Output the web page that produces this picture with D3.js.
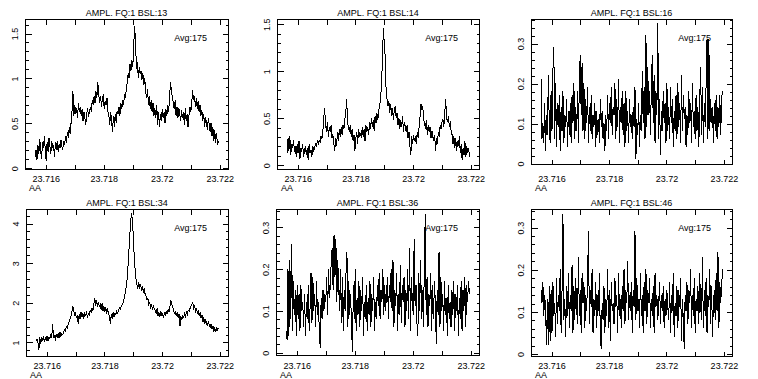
<!DOCTYPE html>
<html>
<head>
<meta charset="utf-8">
<title>AMPL spectra</title>
<style>
  body { margin: 0; background: #fff; }
  svg text { font-family: "Liberation Sans", Arial, sans-serif; font-size: 9px; fill: #000; }
</style>
</head>
<body>
<svg class="svg" width="758" height="379"></svg>
<script src="https://cdn.jsdelivr.net/npm/d3@7/dist/d3.min.js"></script>
<script>
// titles / labels
var titles = ["AMPL. FQ:1 BSL:13", "AMPL. FQ:1 BSL:14", "AMPL. FQ:1 BSL:16",
              "AMPL. FQ:1 BSL:34", "AMPL. FQ:1 BSL:36", "AMPL. FQ:1 BSL:46"];
var avgLabel = "Avg:175";
var xUnit = "AA";

// x axis (wavelength) - first and last channel, ticks
var chanFirst = 23.71565, chanLast = 23.72197;
var xTicks = [23.716, 23.717, 23.718, 23.719, 23.72, 23.721, 23.722];
var xLabels = [23.716, 23.718, 23.72, 23.722];

// amplitudes per channel
var bsl13 = [
  0.12,0.20,0.09,0.25,0.15,0.32,0.18,0.10,0.28,0.22,
  0.35,0.20,0.07,0.28,0.18,0.33,0.24,0.15,0.30,0.22,
  0.25,0.12,0.28,0.20,0.30,0.17,0.26,0.22,0.31,0.24,
  0.20,0.30,0.25,0.35,0.28,0.40,0.33,0.45,0.38,0.50,
  0.62,0.85,0.58,0.70,0.60,0.66,0.55,0.72,0.62,0.68,
  0.58,0.65,0.52,0.62,0.55,0.48,0.60,0.66,0.57,0.62,
  0.68,0.62,0.75,0.70,0.80,0.72,0.85,0.78,0.95,0.82,
  0.72,0.80,0.68,0.76,0.82,0.65,0.74,0.70,0.78,0.62,
  0.58,0.48,0.62,0.52,0.40,0.58,0.45,0.60,0.50,0.63,
  0.60,0.68,0.58,0.72,0.65,0.75,0.70,0.82,0.78,0.88,
  0.95,1.05,1.00,1.15,1.08,1.20,1.12,1.35,1.58,1.40,
  1.10,1.18,1.00,1.12,1.05,1.08,0.98,1.05,0.92,1.00,
  0.85,0.78,0.88,0.70,0.80,0.65,0.75,0.62,0.72,0.58,
  0.66,0.55,0.70,0.48,0.62,0.45,0.60,0.52,0.65,0.55,
  0.62,0.50,0.65,0.58,0.70,0.62,0.80,0.95,0.85,0.78,
  0.72,0.65,0.75,0.58,0.68,0.55,0.66,0.60,0.52,0.64,
  0.55,0.62,0.48,0.66,0.52,0.60,0.45,0.58,0.68,0.62,
  0.72,0.86,0.75,0.80,0.68,0.78,0.65,0.74,0.62,0.70,
  0.58,0.64,0.52,0.60,0.45,0.56,0.50,0.42,0.55,0.48,
  0.40,0.50,0.35,0.45,0.30,0.42,0.28,0.38,0.25,0.30];

var bsl14 = [
  0.12,0.28,0.15,0.30,0.10,0.22,0.18,0.26,0.14,0.20,
  0.08,0.22,0.12,0.25,0.06,0.18,0.14,0.22,0.08,0.16,
  0.20,0.10,0.18,0.05,0.22,0.12,0.16,0.08,0.20,0.14,
  0.18,0.22,0.20,0.25,0.22,0.26,0.24,0.30,0.28,0.35,
  0.50,0.60,0.42,0.35,0.45,0.30,0.40,0.35,0.42,0.28,
  0.32,0.22,0.15,0.28,0.20,0.35,0.25,0.38,0.30,0.40,
  0.32,0.42,0.38,0.48,0.55,0.70,0.45,0.40,0.35,0.42,
  0.30,0.38,0.25,0.32,0.15,0.28,0.35,0.22,0.38,0.30,
  0.34,0.28,0.40,0.30,0.38,0.25,0.42,0.35,0.40,0.32,
  0.45,0.38,0.50,0.40,0.48,0.36,0.52,0.44,0.55,0.48,
  0.58,0.62,0.70,0.85,1.10,1.45,1.30,1.15,0.80,0.70,
  0.62,0.68,0.55,0.65,0.52,0.60,0.48,0.58,0.62,0.50,
  0.55,0.42,0.50,0.38,0.48,0.40,0.52,0.35,0.45,0.40,
  0.35,0.42,0.28,0.35,0.20,0.10,0.30,0.22,0.32,0.25,
  0.30,0.22,0.35,0.28,0.40,0.50,0.65,0.58,0.62,0.48,
  0.45,0.38,0.48,0.32,0.42,0.35,0.40,0.28,0.36,0.30,
  0.25,0.32,0.15,0.28,0.22,0.35,0.30,0.42,0.38,0.45,
  0.48,0.40,0.55,0.70,0.50,0.45,0.52,0.40,0.46,0.35,
  0.32,0.22,0.30,0.18,0.28,0.15,0.25,0.20,0.30,0.12,
  0.22,0.05,0.18,0.10,0.25,0.08,0.20,0.12,0.18,0.08];

var bsl16 = [
  0.21,0.06,0.10,0.05,0.15,0.03,0.12,0.07,0.22,0.10,
  0.05,0.18,0.08,0.23,0.29,0.06,0.20,0.04,0.15,0.09,
  0.17,0.03,0.14,0.08,0.18,0.05,0.12,0.09,0.16,0.04,
  0.13,0.07,0.15,0.05,0.17,0.10,0.20,0.06,0.14,0.08,
  0.18,0.05,0.21,0.27,0.12,0.25,0.08,0.20,0.06,0.16,
  0.10,0.19,0.05,0.14,0.08,0.17,0.06,0.12,0.09,0.15,
  0.04,0.13,0.07,0.11,0.05,0.16,0.09,0.13,0.06,0.10,
  0.03,0.12,0.08,0.17,0.06,0.15,0.10,0.19,0.07,0.14,
  0.12,0.20,0.06,0.16,0.09,0.21,0.05,0.14,0.10,0.18,
  0.07,0.15,0.04,0.18,0.08,0.13,0.05,0.16,0.09,0.12,
  0.06,0.14,0.09,0.19,0.01,0.11,0.07,0.15,0.04,0.12,
  0.08,0.23,0.10,0.19,0.06,0.32,0.09,0.24,0.12,0.18,
  0.07,0.20,0.27,0.10,0.22,0.05,0.18,0.12,0.35,0.06,
  0.16,0.02,0.13,0.08,0.18,0.10,0.15,0.05,0.20,0.08,
  0.14,0.06,0.19,0.10,0.16,0.04,0.13,0.08,0.17,0.06,
  0.20,0.09,0.15,0.05,0.22,0.08,0.17,0.11,0.14,0.04,
  0.12,0.07,0.18,0.10,0.15,0.05,0.20,0.09,0.13,0.06,
  0.17,0.08,0.14,0.04,0.16,0.24,0.07,0.19,0.05,0.15,
  0.09,0.20,0.31,0.06,0.31,0.08,0.16,0.10,0.14,0.05,
  0.15,0.08,0.17,0.06,0.14,0.09,0.17,0.07,0.16,0.18];

var bsl34 = [
  1.02,1.08,1.00,0.80,1.12,0.95,1.10,1.05,1.15,1.00,
  1.10,1.05,1.15,1.02,1.12,1.08,1.18,1.10,1.45,1.12,
  1.15,1.08,1.20,1.12,1.22,1.10,1.25,1.15,1.20,1.18,
  1.25,1.30,1.28,1.38,1.35,1.45,1.50,1.58,1.65,1.75,
  1.90,1.82,1.65,1.72,1.60,1.68,1.45,1.70,1.58,1.75,
  1.62,1.72,1.58,1.75,1.65,1.78,1.60,1.72,1.68,1.80,
  1.75,1.85,1.80,1.95,2.10,1.92,2.05,1.88,2.00,1.90,
  1.95,1.82,1.98,1.78,1.90,1.75,1.88,1.70,1.85,1.72,
  1.65,1.45,1.70,1.58,1.75,1.62,1.72,1.68,1.78,1.72,
  1.80,1.85,1.82,1.90,1.95,2.00,2.10,2.20,2.35,2.50,
  2.80,3.20,3.60,3.95,4.25,4.10,3.70,3.20,2.85,2.60,
  2.45,2.35,2.50,2.38,2.45,2.30,2.40,2.25,2.35,2.20,
  2.15,2.05,2.10,1.95,2.00,1.88,1.95,1.82,1.90,1.85,
  1.80,1.72,1.85,1.65,1.75,1.62,1.78,1.68,1.72,1.60,
  1.75,1.65,1.78,1.70,1.82,1.75,1.90,2.05,1.95,1.88,
  1.82,1.70,1.78,1.65,1.75,1.60,1.70,1.40,1.65,1.55,
  1.68,1.60,1.72,1.65,1.75,1.70,1.80,1.78,1.85,1.90,
  1.95,2.00,1.85,1.90,1.78,1.85,1.72,1.80,1.65,1.75,
  1.60,1.68,1.50,1.62,1.45,1.55,1.48,1.40,1.52,1.42,
  1.38,1.45,1.32,1.40,1.28,1.35,1.25,1.38,1.30,1.35];

var bsl36 = [
  0.05,0.03,0.20,0.04,0.22,0.08,0.26,0.05,0.17,0.09,
  0.15,0.04,0.16,0.08,0.14,0.05,0.16,0.10,0.12,0.06,
  0.14,0.04,0.12,0.08,0.16,0.05,0.11,0.19,0.07,0.18,
  0.10,0.14,0.06,0.17,0.09,0.12,0.05,0.01,0.13,0.08,
  0.15,0.10,0.14,0.12,0.18,0.09,0.20,0.13,0.16,0.22,
  0.25,0.15,0.28,0.18,0.27,0.12,0.22,0.16,0.10,0.20,
  0.07,0.18,0.05,0.15,0.10,0.19,0.24,0.06,0.17,0.09,
  0.14,0.06,0.00,0.16,0.08,0.20,0.05,0.13,0.09,0.17,
  0.06,0.15,0.10,0.18,0.04,0.12,0.08,0.16,0.05,0.13,
  0.09,0.17,0.06,0.14,0.10,0.18,0.05,0.12,0.08,0.16,
  0.11,0.19,0.08,0.15,0.12,0.20,0.09,0.16,0.10,0.14,
  0.18,0.08,0.16,0.12,0.20,0.10,0.22,0.06,0.15,0.11,
  0.19,0.05,0.14,0.09,0.21,0.07,0.16,0.12,0.18,0.06,
  0.15,0.10,0.20,0.08,0.25,0.05,0.18,0.12,0.09,0.27,
  0.11,0.16,0.07,0.04,0.19,0.10,0.22,0.08,0.15,0.06,
  0.20,0.33,0.09,0.18,0.06,0.14,0.11,0.19,0.05,0.16,
  0.08,0.17,0.12,0.02,0.15,0.09,0.24,0.06,0.18,0.10,
  0.14,0.05,0.17,0.09,0.13,0.04,0.16,0.08,0.12,0.06,
  0.15,0.09,0.17,0.05,0.14,0.10,0.16,0.04,0.13,0.08,
  0.17,0.05,0.15,0.10,0.18,0.06,0.16,0.12,0.17,0.14];

var bsl46 = [
  0.15,0.12,0.17,0.09,0.14,0.10,0.02,0.13,0.02,0.16,
  0.03,0.15,0.05,0.17,0.09,0.12,0.04,0.18,0.07,0.14,
  0.10,0.20,0.05,0.15,0.33,0.08,0.13,0.04,0.16,0.09,
  0.19,0.06,0.14,0.10,0.21,0.05,0.16,0.08,0.18,0.11,
  0.07,0.23,0.09,0.15,0.05,0.19,0.12,0.17,0.06,0.14,
  0.10,0.18,0.29,0.07,0.15,0.11,0.20,0.05,0.13,0.09,
  0.17,0.06,0.14,0.10,0.19,0.04,0.01,0.12,0.08,0.16,
  0.05,0.13,0.09,0.20,0.06,0.15,0.03,0.17,0.10,0.12,
  0.07,0.18,0.11,0.14,0.05,0.19,0.09,0.13,0.06,0.16,
  0.10,0.20,0.07,0.15,0.12,0.22,0.08,0.14,0.10,0.17,
  0.05,0.15,0.11,0.29,0.08,0.18,0.10,0.13,0.06,0.19,
  0.09,0.14,0.05,0.17,0.10,0.20,0.07,0.15,0.12,0.18,
  0.06,0.13,0.09,0.16,0.05,0.19,0.11,0.14,0.08,0.12,
  0.17,0.07,0.14,0.10,0.16,0.06,0.13,0.09,0.15,0.11,
  0.08,0.17,0.05,0.14,0.10,0.19,0.04,0.12,0.09,0.16,
  0.06,0.15,0.11,0.18,0.03,0.13,0.08,0.01,0.14,0.10,
  0.17,0.07,0.15,0.12,0.20,0.06,0.14,0.09,0.18,0.05,
  0.13,0.10,0.16,0.07,0.19,0.11,0.08,0.23,0.06,0.15,
  0.09,0.18,0.05,0.14,0.11,0.20,0.07,0.16,0.04,0.12,
  0.15,0.08,0.19,0.10,0.24,0.06,0.17,0.12,0.16,0.20];

var series = [bsl13, bsl14, bsl16, bsl34, bsl36, bsl46];

// y axis ranges and tick steps per panel
var yDomains = [[-0.015, 1.656], [-0.046, 1.55], [-0.0025, 0.36],
                [0.646, 4.354], [-0.0065, 0.343], [-0.0057, 0.343]];
var yMajor = [0.5, 0.5, 0.1, 1, 0.1, 0.1];
var yMinor = [0.1, 0.1, 0.02, 0.2, 0.02, 0.02];

// frame boxes [left, top, right, bottom] and x-label baseline
var boxes = [[25, 19, 228, 169], [277, 19, 479, 169], [531, 19, 732, 164],
             [26, 209, 228, 356], [276, 209, 479, 355], [531, 209, 732, 356]];
var labelBase = [181, 181, 181, 368, 368, 368];

var svg = d3.select("svg");
var fmt = function(d) { return String(+d.toFixed(4)); };

function steps(dom, step) {
  var k0 = Math.ceil(dom[0] / step - 1e-6), k1 = Math.floor(dom[1] / step + 1e-6);
  return d3.range(k0, k1 + 1).map(function(k) { return +(k * step).toFixed(6); });
}

series.forEach(function(vals, p) {
  var b = boxes[p];
  var x = d3.scaleLinear().domain([23.7153, 23.7223]).range([b[0], b[2]]);
  var y = d3.scaleLinear().domain(yDomains[p]).range([b[3], b[1]]);
  var n = vals.length;
  var chans = d3.range(n).map(function(i) { return chanFirst + i * (chanLast - chanFirst) / (n - 1); });

  var g = svg.append("g");

  // spectrum
  g.append("path")
    .datum(vals)
    .attr("fill", "none")
    .attr("stroke", "#000")
    .attr("stroke-width", 1)
    .attr("shape-rendering", "crispEdges")
    .attr("d", d3.line()
      .x(function(d, i) { return x(chans[i]); })
      .y(function(d) { return y(d); }));

  // frame
  g.append("rect")
    .attr("x", b[0] + 0.5).attr("y", b[1] + 0.5)
    .attr("width", b[2] - b[0]).attr("height", b[3] - b[1])
    .attr("fill", "none").attr("stroke", "#000")
    .attr("shape-rendering", "crispEdges");

  var ax = function(sel) {
    sel.select(".domain").remove();
    sel.selectAll("line").attr("stroke", "#000").attr("shape-rendering", "crispEdges");
  };

  // x ticks, bottom with labels, top plain
  g.append("g")
    .attr("transform", "translate(0.5," + (b[3] + 0.5) + ")")
    .call(d3.axisBottom(x).tickValues(xTicks).tickSize(-5)
      .tickFormat(function(d) { return xLabels.indexOf(d) >= 0 ? fmt(d) : ""; }))
    .call(ax)
    .selectAll("text").attr("font-family", null).attr("font-size", null).attr("dy", 0)
    .attr("y", labelBase[p] - b[3]);

  g.append("g")
    .attr("transform", "translate(0.5," + (b[1] + 0.5) + ")")
    .call(d3.axisTop(x).tickValues(xTicks).tickSize(-5).tickFormat(""))
    .call(ax);

  // y ticks: minor then major, both sides
  var minorT = steps(yDomains[p], yMinor[p]);
  var majorT = steps(yDomains[p], yMajor[p]);

  g.append("g").attr("transform", "translate(" + (b[0] + 0.5) + ",0.5)")
    .call(d3.axisLeft(y).tickValues(minorT).tickSize(-3).tickFormat("")).call(ax);
  g.append("g").attr("transform", "translate(" + (b[2] + 0.5) + ",0.5)")
    .call(d3.axisRight(y).tickValues(minorT).tickSize(-3).tickFormat("")).call(ax);
  g.append("g").attr("transform", "translate(" + (b[2] + 0.5) + ",0.5)")
    .call(d3.axisRight(y).tickValues(majorT).tickSize(-6).tickFormat("")).call(ax);

  g.append("g").attr("transform", "translate(" + (b[0] + 0.5) + ",0.5)")
    .call(d3.axisLeft(y).tickValues(majorT).tickSize(-6).tickFormat(fmt))
    .call(ax)
    .selectAll("text")
    .attr("font-family", null).attr("font-size", null)
    .attr("x", 0).attr("y", -7.5).attr("dy", 0)
    .attr("text-anchor", "middle")
    .attr("transform", "rotate(-90)");

  // title, avg, unit
  g.append("text")
    .attr("x", (b[0] + b[2]) / 2).attr("y", b[1] - 3)
    .attr("text-anchor", "middle")
    .text(titles[p]);

  g.append("text")
    .attr("x", b[2] - 21).attr("y", b[1] + 22)
    .attr("text-anchor", "end")
    .text(avgLabel);

  g.append("text")
    .attr("x", b[0] + 4).attr("y", labelBase[p] + 9.5)
    .text(xUnit);
});
</script>
</body>
</html>
